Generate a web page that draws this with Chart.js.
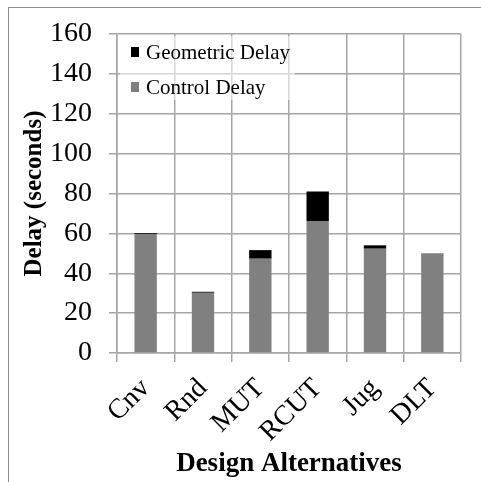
<!DOCTYPE html>
<html lang="en">
<head>
    <meta charset="UTF-8">
    <title>Delay by Design Alternative</title>
    <script src="https://cdn.jsdelivr.net/npm/chart.js"></script>
    <style>
        html, body {
            margin: 0;
            padding: 0;
            background: #ffffff;
        }

        .frame {
            position: absolute;
            left: 8px;
            top: 7px;
            width: 473px;
            height: 475px;
            border-left: 1px solid #8c8c8c;
            border-top: 1px solid #8c8c8c;
        }

        .chart-box {
            position: absolute;
            left: 0;
            top: 0;
            width: 481px;
            height: 482px;
        }
    </style>
</head>
<body>
    <div class="frame"></div>
    <div class="chart-box">
        <canvas id="delayChart" width="481" height="482"></canvas>
    </div>

    <script>
        // data
        const alternatives = ['Cnv', 'Rnd', 'MUT', 'RCUT', 'Jug', 'DLT'];
        const controlDelay = [59.7, 30.2, 47.3, 66.2, 52.3, 50.0];
        const geometricDelay = [0.4, 0.5, 4.3, 14.8, 1.7, 0];
        const yTicks = [0, 20, 40, 60, 80, 100, 120, 140, 160];

        const serif = "'Liberation Serif', 'Times New Roman', serif";
        const gridGray = '#a6a6a6';

        // legend drawn inside the plot, top left
        const insideLegend = {
            id: 'insideLegend',
            afterDatasetsDraw(chart) {
                const ctx = chart.ctx;
                const area = chart.chartArea;
                ctx.save();
                ctx.fillStyle = 'rgba(255,255,255,0.55)';
                ctx.fillRect(area.left + 3, area.top + 2, 175, 64);
                const items = [chart.data.datasets[1], chart.data.datasets[0]];
                ctx.font = '21px ' + serif;
                ctx.textBaseline = 'middle';
                items.forEach((ds, i) => {
                    const y = area.top + 18 + i * 35;
                    ctx.fillStyle = ds.backgroundColor;
                    ctx.fillRect(area.left + 14, y - 5, 8, 10);
                    ctx.fillStyle = '#000';
                    ctx.fillText(ds.label, area.left + 29, y + 1);
                });
                ctx.restore();
            }
        };

        const ctx = document.getElementById('delayChart').getContext('2d');
        new Chart(ctx, {
            type: 'bar',
            data: {
                labels: alternatives,
                datasets: [{
                    label: 'Control Delay',
                    data: controlDelay,
                    backgroundColor: '#808080',
                    barPercentage: 0.39,
                    categoryPercentage: 1
                }, {
                    label: 'Geometric Delay',
                    data: geometricDelay,
                    backgroundColor: '#000000',
                    barPercentage: 0.39,
                    categoryPercentage: 1
                }]
            },
            options: {
                responsive: false,
                animation: false,
                layout: {
                    padding: { left: 20, right: 20, top: 34, bottom: 2 }
                },
                plugins: {
                    legend: { display: false },
                    tooltip: { enabled: false }
                },
                scales: {
                    x: {
                        stacked: true,
                        grid: {
                            offset: true,
                            color: gridGray,
                            lineWidth: 1.5,
                            tickLength: 9
                        },
                        border: { color: gridGray, width: 1.5 },
                        ticks: {
                            color: '#000',
                            font: { family: serif, size: 28 },
                            minRotation: 45,
                            maxRotation: 45,
                            padding: 10
                        },
                        title: {
                            display: true,
                            text: 'Design Alternatives',
                            color: '#000',
                            font: { family: serif, size: 27, weight: 'bold' },
                            padding: { top: 0, bottom: 0 }
                        },
                        afterFit(scale) {
                            scale.height = 482 - 353 - 2;
                        }
                    },
                    y: {
                        stacked: true,
                        min: 0,
                        max: 160,
                        afterBuildTicks(scale) {
                            scale.ticks = yTicks.map(v => ({ value: v }));
                        },
                        grid: {
                            color: gridGray,
                            lineWidth: 1.5,
                            tickLength: 8
                        },
                        border: { color: gridGray, width: 1.5 },
                        ticks: {
                            color: '#000',
                            font: { family: serif, size: 28 },
                            padding: 17
                        },
                        title: {
                            display: true,
                            text: 'Delay (seconds)',
                            color: '#000',
                            font: { family: serif, size: 25, weight: 'bold' },
                            padding: { top: 0, bottom: 0 }
                        },
                        afterFit(scale) {
                            scale.width = 117 - 20;
                        }
                    }
                }
            },
            plugins: [insideLegend]
        });
    </script>
</body>
</html>
